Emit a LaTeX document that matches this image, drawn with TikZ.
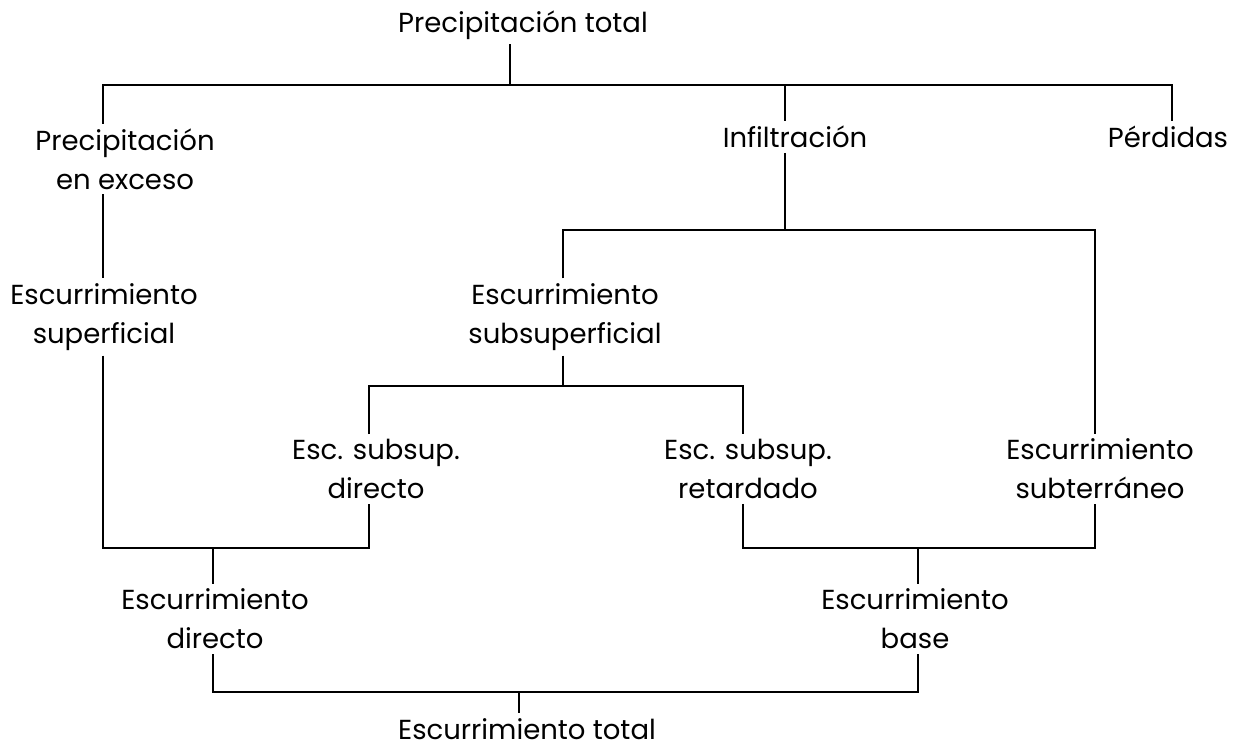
\documentclass[tikz,border=0pt]{standalone}
\usepackage{fontspec}
\setmainfont{Poppins}
\begin{document}
\begin{tikzpicture}[x=1pt,y=-1pt,
  lbl/.style={inner sep=0pt, outer sep=5pt, align=center, font=\fontsize{27.5}{39}\selectfont},
  ln/.style={line width=2.8pt}]
\useasboundingbox (0,0) rectangle (1242,748);
\fill[white] (0,0) rectangle (1242,748);
\node[lbl] (title) at (523,25) {Precipitación total};
\node[lbl] (pexc) at (125,159) {Precipitación\\en exceso};
\node[lbl] (inf) at (795,137) {Infiltración};
\node[lbl] (perd) at (1168,137) {Pérdidas};
\node[lbl] (esup) at (104,317) {Escurrimiento\\superficial};
\node[lbl] (esub) at (565,317) {Escurrimiento\\subsuperficial};
\node[lbl] (esd) at (376,469) {Esc. subsup.\\directo};
\node[lbl] (esr) at (748,469) {Esc. subsup.\\retardado};
\node[lbl] (este) at (1100,469) {Escurrimiento\\subterráneo};
\node[lbl] (edir) at (215,619) {Escurrimiento\\directo};
\node[lbl] (ebase) at (915,619) {Escurrimiento\\base};
\node[lbl] (etot) at (527,729) {Escurrimiento total};

\coordinate (j1) at (510,85);
\coordinate (j1l) at (103,85);
\coordinate (j1m) at (785,85);
\coordinate (j1r) at (1172,85);
\coordinate (j2) at (785,230);
\coordinate (j2l) at (563,230);
\coordinate (j2r) at (1095,230);
\coordinate (j3) at (563,386);
\coordinate (j3l) at (369,386);
\coordinate (j3r) at (743,386);
\coordinate (j4) at (213,548);
\coordinate (j4l) at (103,548);
\coordinate (j4r) at (369,548);
\coordinate (j5) at (918,548);
\coordinate (j5l) at (743,548);
\coordinate (j5r) at (1095,548);
\coordinate (j6) at (519,692);
\coordinate (j6l) at (213,692);
\coordinate (j6r) at (918,692);

\draw[ln] (title.south -| j1) -- (j1);
\draw[ln] (pexc.north -| j1l) -- (j1l) -- (j1r) -- (perd.north -| j1r);
\draw[ln] (j1m) -- (inf.north -| j1m);
\draw[ln] (pexc.south -| j1l) -- (esup.north -| j1l);
\draw[ln] (inf.south -| j2) -- (j2);
\draw[ln] (esub.north -| j2l) -- (j2l) -- (j2r) -- (este.north -| j2r);
\draw[ln] (esub.south -| j3) -- (j3);
\draw[ln] (esd.north -| j3l) -- (j3l) -- (j3r) -- (esr.north -| j3r);
\draw[ln] (esup.south -| j4l) -- (j4l) -- (j4r) -- (esd.south -| j4r);
\draw[ln] (j4) -- (edir.north -| j4);
\draw[ln] (esr.south -| j5l) -- (j5l) -- (j5r) -- (este.south -| j5r);
\draw[ln] (j5) -- (ebase.north -| j5);
\draw[ln] (edir.south -| j6l) -- (j6l) -- (j6r) -- (ebase.south -| j6r);
\draw[ln] (j6) -- (etot.north -| j6);
\end{tikzpicture}
\end{document}
